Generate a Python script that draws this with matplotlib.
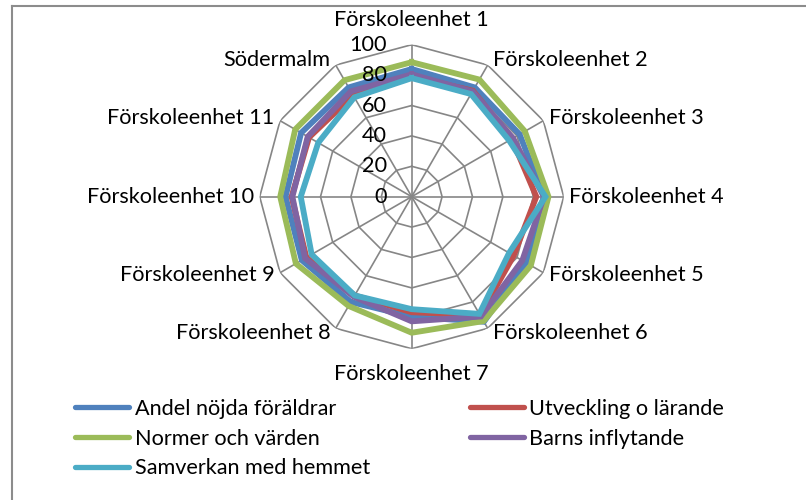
import numpy as np
import matplotlib
matplotlib.use("Agg")
import matplotlib.pyplot as plt
from matplotlib.lines import Line2D

plt.rcParams['font.family'] = ['Lato', 'DejaVu Sans']

categories = ["Förskoleenhet 1", "Förskoleenhet 2", "Förskoleenhet 3",
              "Förskoleenhet 4", "Förskoleenhet 5", "Förskoleenhet 6",
              "Förskoleenhet 7", "Förskoleenhet 8", "Förskoleenhet 9",
              "Förskoleenhet 10", "Förskoleenhet 11", "Södermalm"]

andel_nojda = [84, 83, 82, 87, 87, 95, 79, 80, 83.5, 83, 84, 83]
utveckling = [79, 80.5, 76, 82, 77.5, 90, 76, 75, 80, 79, 78, 77]
normer = [88.5, 89, 86, 90, 90.5, 94.5, 89.5, 83, 88, 86.5, 88.5, 88.5]
inflytande = [80.5, 80, 77, 87, 84, 91, 82, 76, 81, 78.5, 79, 80]
samverkan = [78, 78, 74, 88, 74, 89, 74, 75, 76, 73, 71, 75.5]

series = [
    ("Andel nöjda föräldrar", andel_nojda, "#4F81BD"),
    ("Utveckling o lärande", utveckling, "#C0504D"),
    ("Normer och värden", normer, "#9BBB59"),
    ("Barns inflytande", inflytande, "#8064A2"),
    ("Samverkan med hemmet", samverkan, "#4BACC6"),
]

r_ticks = [0, 20, 40, 60, 80, 100]
fs = 15.6
grid_col = "#868686"

W, H = 806, 500
fig = plt.figure(figsize=(W / 100, H / 100), dpi=100)

# polar area: centre and radius in pixels
cx, cy, rad = 411.7, 196.7, 152
ax = fig.add_axes([(cx - rad) / W, 1 - (cy + rad) / H, 2 * rad / W, 2 * rad / H],
                  projection='polar')
ax.set_theta_zero_location('N')
ax.set_theta_direction(-1)
ax.set_ylim(0, 100)
ax.grid(False)
ax.spines['polar'].set_visible(False)
ax.set_xticks([])
ax.set_yticks([])
ax.patch.set_alpha(0)

n = len(categories)
theta = np.arange(n) * 2 * np.pi / n
theta_c = np.append(theta, theta[0])

# polygon grid
for r in r_ticks[1:]:
    ax.plot(theta_c, [r] * (n + 1), color=grid_col, lw=1.2, zorder=1)
for t in theta:
    ax.plot([t, t], [0, 100], color=grid_col, lw=1.2, zorder=1)

for name, vals, col in series:
    ax.plot(theta_c, list(vals) + [vals[0]], color=col, lw=4.2, zorder=3,
            solid_joinstyle='miter')

# radial tick labels left of the top spoke
for r in r_ticks:
    ax.annotate(str(r), xy=(0, r), xytext=(-18, 0), textcoords='offset points',
                ha='right', va='center', fontsize=fs, zorder=5)

# category labels
for t, lab in zip(theta, categories):
    s, c = np.sin(t), np.cos(t)
    if abs(s) < 0.1:
        ha, dx, dy = 'center', 0, 18 * c
    else:
        ha = 'left' if s > 0 else 'right'
        dx, dy = 4 * np.sign(s), 4 * c
    ax.annotate(lab, xy=(t, 100), xytext=(dx, dy), textcoords='offset points',
                ha=ha, va='center', fontsize=fs, annotation_clip=False)

# frame of the pasted chart (left and top edges)
fig.add_artist(Line2D([12 / W, 12 / W], [0, 1 - 6 / H], color="#8c8c8c", lw=1.5))
fig.add_artist(Line2D([12 / W, 1], [1 - 6 / H, 1 - 6 / H], color="#8c8c8c", lw=1.5))

order = [0, 2, 4, 1, 3]
handles = [Line2D([], [], color=series[i][2], lw=3.8, solid_capstyle='round')
           for i in order]
labels = [series[i][0] for i in order]
fig.legend(handles, labels, loc='upper left', bbox_to_anchor=(75 / W, 1 - 399 / H),
           ncol=2, frameon=False, fontsize=fs, borderpad=0, borderaxespad=0,
           handlelength=2.5, handletextpad=0.25, columnspacing=4.6,
           labelspacing=0.45)

fig.savefig("out.png", dpi=100)
